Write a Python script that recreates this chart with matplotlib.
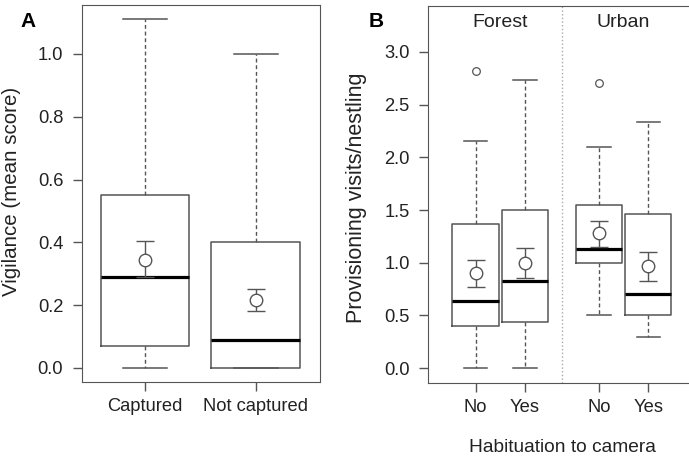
import matplotlib
matplotlib.use("Agg")
import matplotlib.pyplot as plt

plt.rcParams['font.family'] = ['Liberation Sans', 'DejaVu Sans']
plt.rcParams['font.size'] = 13

# panel A: vigilance
a_labels = ["Captured", "Not captured"]
a_low = [0.0, 0.0]
a_q1 = [0.07, 0.0]
a_med = [0.29, 0.09]
a_q3 = [0.55, 0.40]
a_high = [1.11, 1.00]
a_mean = [0.345, 0.215]
a_err_lo = [0.29, 0.18]
a_err_hi = [0.405, 0.25]

# panel B: provisioning
b_labels = ["No", "Yes", "No", "Yes"]
b_pos = [1, 2, 3.5, 4.5]
b_low = [0.0, 0.0, 0.5, 0.30]
b_q1 = [0.40, 0.44, 1.00, 0.50]
b_med = [0.64, 0.83, 1.13, 0.70]
b_q3 = [1.37, 1.50, 1.55, 1.46]
b_high = [2.15, 2.73, 2.10, 2.33]
b_out = [[2.82], [], [2.70], []]
b_mean = [0.90, 1.00, 1.28, 0.97]
b_err_lo = [0.77, 0.855, 1.15, 0.83]
b_err_hi = [1.03, 1.14, 1.395, 1.105]

edge = '#555555'
txt = '#222222'


def draw(ax, pos, low, q1, med, q3, high, outs, mean, elo, ehi, width):
    stats = []
    for i in range(len(pos)):
        stats.append(dict(whislo=low[i], q1=q1[i], med=med[i], q3=q3[i],
                          whishi=high[i], fliers=outs[i]))
    ax.bxp(stats, positions=pos, widths=width, showfliers=True,
           boxprops=dict(color=edge, linewidth=1.1),
           whiskerprops=dict(color=edge, linewidth=1.0, linestyle=(0, (2.8, 2.0))),
           capprops=dict(color=edge, linewidth=1.1),
           medianprops=dict(color='black', linewidth=2.3),
           flierprops=dict(marker='o', markerfacecolor='none',
                           markeredgecolor=edge, markersize=5.5,
                           markeredgewidth=0.9),
           capwidths=[width * 0.5] * len(pos))
    for i, p in enumerate(pos):
        ax.errorbar(p, mean[i], yerr=[[mean[i] - elo[i]], [ehi[i] - mean[i]]],
                    fmt='o', mfc='white', mec=edge, ms=9, mew=1.0,
                    ecolor=edge, elinewidth=1.0, capsize=6.5, capthick=1.0,
                    zorder=5)
    for s in ax.spines.values():
        s.set_color(edge)
    ax.tick_params(colors=edge, labelcolor=txt, length=6.5, width=1, labelsize=13.2)
    ax.tick_params(axis='y', pad=7)
    ax.tick_params(axis='x', pad=5)


fig = plt.figure(figsize=(6.89, 4.57), dpi=100)

axA = fig.add_axes([0.119, 0.164, 0.345, 0.825])
draw(axA, [1, 2], a_low, a_q1, a_med, a_q3, a_high, [[], []],
     a_mean, a_err_lo, a_err_hi, 0.8)
axA.set_xlim(0.432, 2.577)
axA.set_ylim(-0.045, 1.156)
axA.set_yticks([0.0, 0.2, 0.4, 0.6, 0.8, 1.0])
axA.set_yticklabels(["0.0", "0.2", "0.4", "0.6", "0.8", "1.0"])
axA.set_xticks([1, 2])
axA.set_xticklabels(a_labels)
axA.set_ylabel("Vigilance (mean score)", color=txt, fontsize=14.8)
axA.yaxis.set_label_coords(-0.256, 0.505)
fig.text(0.0414, 0.954, "A", fontsize=15, fontweight='bold', ha='center',
         va='center', color='black')

axB = fig.add_axes([0.6216, 0.1626, 0.388, 0.825])
draw(axB, b_pos, b_low, b_q1, b_med, b_q3, b_high, b_out,
     b_mean, b_err_lo, b_err_hi, 0.94)
axB.spines['right'].set_visible(False)
axB.set_xlim(0.04, 5.46)
axB.set_ylim(-0.137, 3.437)
axB.axvline(2.75, color='#aaaaaa', linestyle=':', linewidth=1.0)
axB.set_yticks([0.0, 0.5, 1.0, 1.5, 2.0, 2.5, 3.0])
axB.set_yticklabels(["0.0", "0.5", "1.0", "1.5", "2.0", "2.5", "3.0"])
axB.set_xticks(b_pos)
axB.set_xticklabels(b_labels)
axB.set_ylabel("Provisioning visits/nestling", color=txt, fontsize=15.5)
axB.yaxis.set_label_coords(-0.229, 0.491)
axB.set_xlabel("Habituation to camera", color=txt, fontsize=13.8)
axB.xaxis.set_label_coords(0.5, -0.150)
axB.text(1.5, 3.28, "Forest", ha='center', va='center', color=txt, fontsize=14)
axB.text(4.0, 3.28, "Urban", ha='center', va='center', color=txt, fontsize=14)
fig.text(0.5467, 0.954, "B", fontsize=15, fontweight='bold', ha='center',
         va='center', color='black')

fig.savefig("out.png", dpi=100)
